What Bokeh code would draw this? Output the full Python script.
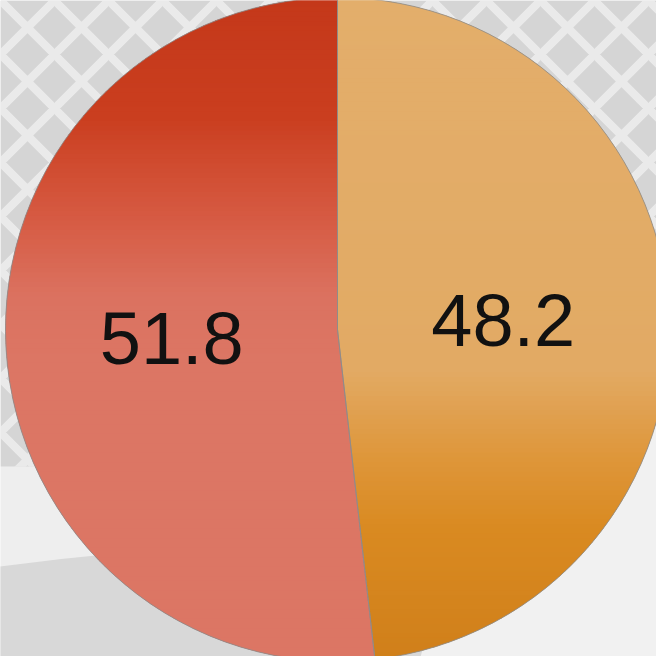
import numpy as np
from bokeh.plotting import figure
from bokeh.models import ColumnDataSource, Range1d
from bokeh.core.properties import value
from bokeh.embed import file_html
from bokeh.resources import INLINE

# ---- data ----
labels = ["48.2", "51.8"]
values = [48.2, 51.8]
slice_stops = [
    # (t from top of pie, colour) - orange slice
    [(0.0, "#e3ae6b"), (0.56, "#e2aa64"), (0.70, "#de9538"), (0.80, "#d98a21"), (1.0, "#d07f1a")],
    # red slice
    [(0.0, "#c4381a"), (0.18, "#ca3e1f"), (0.33, "#d65a42"), (0.45, "#db7260"), (0.55, "#dc7664"), (1.0, "#dc7664")],
]
base_colors = ["#e0a14f", "#d5604a"]

W, H = 656, 656
cx, cy, R = 337.0, 327.0, 332.0

p = figure(width=W, height=H, output_backend="svg", toolbar_location=None,
           x_range=Range1d(0, W), y_range=Range1d(0, H), min_border=0)
p.axis.visible = False
p.grid.visible = False
p.outline_line_color = None
p.background_fill_color = "#eeeeee"
p.border_fill_color = "#eeeeee"

# background texture
p.quad(left=[0], right=[W], bottom=[190], top=[H], fill_color="#d5d5d5", line_color=None,
       hatch_pattern="diagonal_cross", hatch_color="#f3f3f3", hatch_scale=54, hatch_weight=8,
       hatch_alpha=0.7)
p.ellipse(x=[380], y=[-500], width=[2692], height=[1230], fill_color="#d8d8d8", line_color=None)
p.ellipse(x=[730], y=[-80], width=[640], height=[640], fill_color="#f1f1f1", line_color=None)

total = sum(values)
fr = np.array(values) / total
cum = np.concatenate([[0], np.cumsum(fr)])
start = np.pi / 2 - 2 * np.pi * cum[:-1]
end = np.pi / 2 - 2 * np.pi * cum[1:]

src = ColumnDataSource(dict(x=[cx] * len(values), y=[cy] * len(values), start=start, end=end,
                            color=base_colors, label=labels))
p.wedge(x="x", y="y", radius=R, start_angle="start", end_angle="end", direction="clock",
        fill_color="color", line_color=None, source=src)


def hexrgb(h):
    return np.array([int(h[i:i + 2], 16) for i in (1, 3, 5)], dtype=float)


def col_at(stops, t):
    ts = [s[0] for s in stops]
    cs = [hexrgb(s[1]) for s in stops]
    for k in range(len(ts) - 1):
        if ts[k] <= t <= ts[k + 1]:
            f = (t - ts[k]) / (ts[k + 1] - ts[k])
            c = cs[k] * (1 - f) + cs[k + 1] * f
            return "#%02x%02x%02x" % tuple(int(round(v)) for v in c)
    return stops[-1][1]


def clip(poly, yv, keep_above):
    out = []
    n = len(poly)
    for i in range(n):
        a = poly[i]
        b = poly[(i + 1) % n]
        ina = a[1] >= yv if keep_above else a[1] <= yv
        inb = b[1] >= yv if keep_above else b[1] <= yv
        if ina:
            out.append(a)
        if ina != inb:
            f = (yv - a[1]) / (b[1] - a[1])
            out.append((a[0] + f * (b[0] - a[0]), yv))
    return out


xs, ys, cols = [], [], []
nb = 140
edges = np.linspace(cy - R, cy + R, nb + 1)
for i in range(len(values)):
    ang = np.linspace(start[i], end[i], 400)
    poly = [(cx, cy)] + [(cx + R * np.cos(a), cy + R * np.sin(a)) for a in ang]
    for k in range(nb):
        lo, hi = edges[k], min(edges[k + 1] + 0.8, cy + R)
        pc = clip(clip(poly, lo, True), hi, False)
        if len(pc) < 3:
            continue
        t = 1 - ((lo + edges[k + 1]) / 2 - (cy - R)) / (2 * R)
        xs.append([q[0] for q in pc])
        ys.append([q[1] for q in pc])
        cols.append(col_at(slice_stops[i], t))
p.patches(xs=xs, ys=ys, fill_color=cols, line_color=None)

# outlines
p.wedge(x="x", y="y", radius=R, start_angle="start", end_angle="end", direction="clock",
        fill_color=None, line_color="#8c8c8c", line_width=1, line_alpha=0.8, source=src)

mid = (start + end) / 2
lx = cx + 0.5 * R * np.cos(mid)
ly = cy + 0.5 * R * np.sin(mid)
p.text(x=lx, y=ly, text=labels, text_font=value("Liberation Sans"), text_font_size="74px",
       text_align="center", text_baseline="middle", text_color="#111111")

open("out.html", "w").write(file_html(p, INLINE))
